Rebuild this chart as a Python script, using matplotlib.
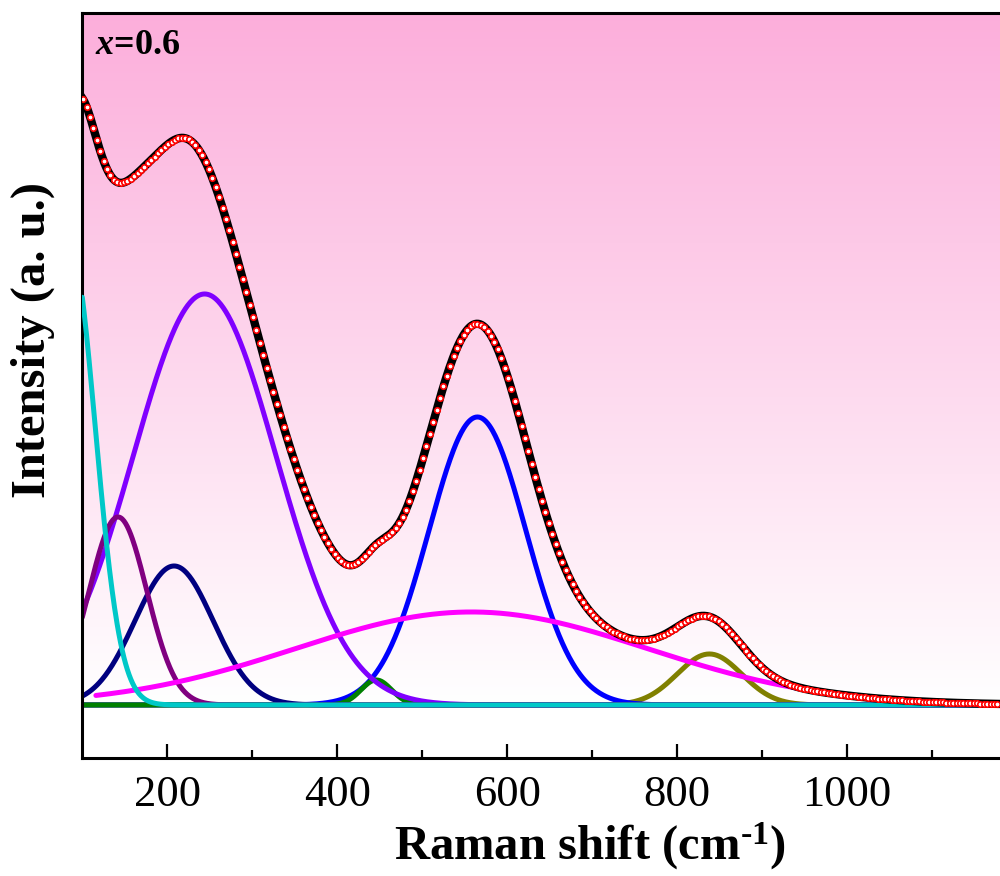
import numpy as np
import matplotlib
matplotlib.use("Agg")
import matplotlib.pyplot as plt
from matplotlib.ticker import FixedLocator

plt.rcParams['font.family'] = ['Liberation Serif', 'DejaVu Serif']
plt.rcParams['mathtext.fontset'] = 'custom'
plt.rcParams['mathtext.rm'] = 'Liberation Serif:bold'
plt.rcParams['mathtext.bf'] = 'Liberation Serif:bold'
plt.rcParams['mathtext.it'] = 'Liberation Serif:bold:italic'

# ---- data (peak parameters read from the fitted components) ----
peak_names   = ["P1", "P2", "P3", "P4", "P5", "P6", "P7", "P8"]
peak_centers = [85, 142, 208, 244, 446, 565, 558, 838]     # cm^-1
peak_heights = [462, 188, 139, 411, 25, 288, 93, 51]       # a.u.
peak_sigmas  = [30, 34, 46, 84, 18, 57, 207, 38]           # cm^-1
peak_colors  = ["#00C8C8", "#800080", "#000080", "#8000FF",
                "#008000", "#0000FF", "#FF00FF", "#808000"]
peak_start   = [100, 100, 100, 100, 100, 100, 116, 100]
# drawing order (bottom -> top)
draw_order   = [7, 5, 4, 3, 2, 1, 6, 0]

x_min, x_max = 100, 1180
major_ticks = [200, 400, 600, 800, 1000]
minor_ticks = [300, 500, 700, 900, 1100]
sample_label = "$x$=0.6"

def comp(i, x):
    return peak_heights[i] * np.exp(-(x - peak_centers[i]) ** 2 / (2 * peak_sigmas[i] ** 2))

x_line = np.arange(x_min, x_max + 1, 1.0)
x_mark = np.arange(x_min + 1, x_max + 1, 4.0)
fit_line = sum(comp(i, x_line) for i in range(len(peak_centers)))
fit_mark = sum(comp(i, x_mark) for i in range(len(peak_centers)))

fig = plt.figure(figsize=(10, 8.76), dpi=100)
ax = fig.add_axes([0.0823, 0.1344, 1.0 - 0.0823, 0.9855 - 0.1344])

y_lo, y_hi = -53.3, 692.3
ax.set_xlim(x_min, x_max)
ax.set_ylim(y_lo, y_hi)

# gradient background: pink at top -> white at baseline
n = 400
yy = np.linspace(y_hi, y_lo, n)
frac = np.clip(yy / y_hi, 0, 1)[:, None]
top = np.array([252, 174, 219]) / 255.0
white = np.array([1.0, 1.0, 1.0])
grad = white + (top - white) * frac
ax.imshow(grad[:, None, :], extent=[x_min, x_max, y_lo, y_hi], aspect='auto',
          zorder=0, interpolation='bilinear')

for k, i in enumerate(draw_order):
    xs = x_line[x_line >= peak_start[i]]
    ax.plot(xs, comp(i, xs), color=peak_colors[i], lw=3.6,
            solid_capstyle='round', zorder=2 + k * 0.1)

ax.plot(x_line, fit_line, color='black', lw=6.0, zorder=5)
ax.plot(x_mark, fit_mark, linestyle='none', marker='o', markersize=3.9,
        markerfacecolor='white', markeredgecolor='red', markeredgewidth=1.2, zorder=6)

ax.text(0.014, 0.978, sample_label, transform=ax.transAxes, ha='left', va='top',
        fontsize=26, fontweight='bold')

for s in ['top', 'bottom', 'left']:
    ax.spines[s].set_linewidth(2.2)
ax.spines['right'].set_visible(False)

ax.xaxis.set_major_locator(FixedLocator(major_ticks))
ax.xaxis.set_minor_locator(FixedLocator(minor_ticks))
ax.tick_params(axis='x', which='major', direction='in', length=10, width=1.6,
               labelsize=32, pad=12, top=False)
ax.tick_params(axis='x', which='minor', direction='in', length=6, width=1.6, top=False)
ax.set_yticks([])

ax.set_xlabel("Raman shift (cm$^{\\text{-1}}$)", fontsize=35, fontweight='bold',
              labelpad=4, x=0.553, ha='center')
ax.set_ylabel("Intensity (a. u.)", fontsize=35, fontweight='bold')
ax.yaxis.set_label_coords(-0.03, 0.561)

fig.savefig("out.png", dpi=100)
